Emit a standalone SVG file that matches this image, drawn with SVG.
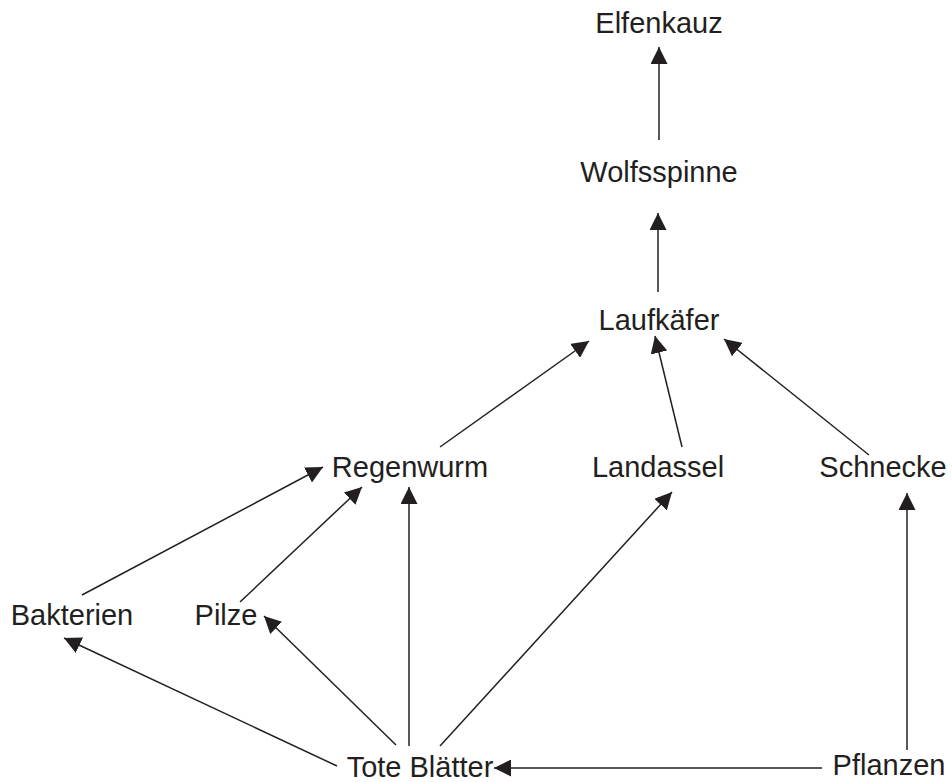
<svg xmlns="http://www.w3.org/2000/svg" width="952" height="782" viewBox="0 0 952 782">
<style>
text{font-family:"Liberation Sans",Arial,sans-serif;font-size:29px;fill:#231f20;text-anchor:middle}
line{stroke:#231f20;stroke-width:1.5;marker-end:url(#ah)}
</style>
<defs>
<marker id="ah" markerUnits="userSpaceOnUse" markerWidth="17" markerHeight="17" refX="17" refY="8.5" orient="auto" viewBox="0 0 17 17">
<path d="M0,0 L17,8.5 L0,17 z" fill="#231f20"/>
</marker>
</defs>
<rect width="952" height="782" fill="#fff"/>
<g id="connectors">
<line x1="659" y1="140" x2="659" y2="47"/>
<line x1="658" y1="292" x2="658" y2="213"/>
<line x1="440" y1="447" x2="589" y2="341"/>
<line x1="682" y1="447" x2="655" y2="336"/>
<line x1="869" y1="455" x2="724" y2="339"/>
<line x1="82" y1="595" x2="323" y2="467"/>
<line x1="240" y1="602" x2="362" y2="487"/>
<line x1="409" y1="746" x2="409" y2="487"/>
<line x1="396" y1="745" x2="264" y2="616"/>
<line x1="337" y1="766" x2="64" y2="638"/>
<line x1="440" y1="746" x2="672" y2="492"/>
<line x1="907" y1="750" x2="907" y2="493"/>
<line x1="822" y1="768" x2="494" y2="768"/>
</g>
<g id="n-elfenkauz"><text x="659" y="33">Elfenkauz</text></g>
<g id="n-wolfsspinne"><text x="659" y="182">Wolfsspinne</text></g>
<g id="n-laufkaefer"><text x="659" y="330">Laufkäfer</text></g>
<g id="n-regenwurm"><text x="410" y="477">Regenwurm</text></g>
<g id="n-landassel"><text x="658" y="477">Landassel</text></g>
<g id="n-schnecke"><text x="883" y="477">Schnecke</text></g>
<g id="n-bakterien"><text x="72" y="625">Bakterien</text></g>
<g id="n-pilze"><text x="226" y="625">Pilze</text></g>
<g id="n-toteblaetter"><text x="420" y="777">Tote Blätter</text></g>
<g id="n-pflanzen"><text x="889" y="775">Pflanzen</text></g>
</svg>
